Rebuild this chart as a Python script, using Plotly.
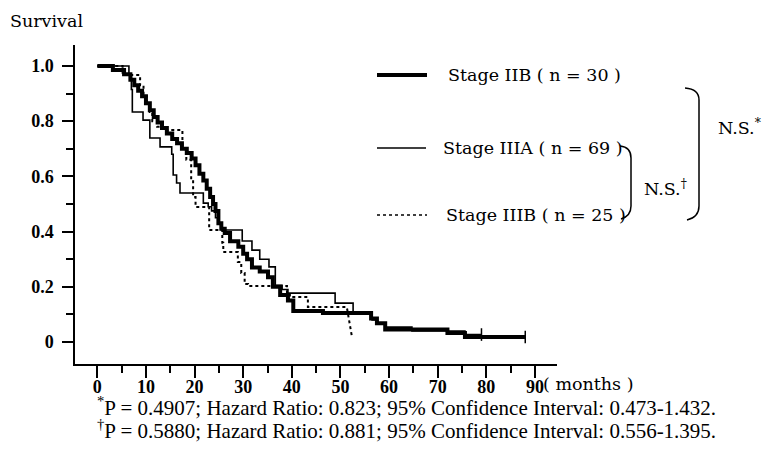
import plotly.graph_objects as go

# ---------------- data ----------------
iib_t = [0, 3.2, 5.5, 6.8, 7.6, 8.4, 9.2, 10.0, 10.8, 11.6, 12.4, 13.3, 14.3, 15.4, 16.4,
         17.4, 18.4, 19.4, 20.2, 21.0, 21.8, 22.5, 23.2, 23.8, 24.3, 24.9, 25.5, 26.2, 27.3,
         29.0, 30.0, 30.8, 31.8, 33.4, 35.1, 36.1, 37.6, 39.2, 40.3, 46.4, 56.3, 57.5, 59.2,
         72.0, 75.6]
iib_s = [1.0, 0.985, 0.97, 0.95, 0.93, 0.91, 0.89, 0.865, 0.84, 0.815, 0.795, 0.775, 0.755,
         0.735, 0.72, 0.70, 0.685, 0.665, 0.64, 0.61, 0.585, 0.555, 0.525, 0.50, 0.475, 0.43,
         0.41, 0.395, 0.365, 0.345, 0.32, 0.30, 0.27, 0.255, 0.235, 0.20, 0.17, 0.15, 0.112,
         0.105, 0.085, 0.068, 0.045, 0.033, 0.018]
iib_end = 88.0

iiia_t = [0, 6.5, 7.0, 7.2, 9.4, 10.8, 12.9, 15.3, 15.6, 16.3, 17.0, 21.8, 22.8, 23.5, 24.3,
          25.0, 25.5, 29.8, 31.8, 33.4, 35.3, 36.6, 38.0, 39.2, 48.9, 52.6, 56.5, 57.5, 59.2,
          64.7, 75.6]
iiia_s = [1.0, 0.97, 0.915, 0.833, 0.804, 0.739, 0.707, 0.68, 0.605, 0.576, 0.54, 0.503, 0.49,
          0.475, 0.45, 0.43, 0.406, 0.366, 0.333, 0.30, 0.272, 0.205, 0.19, 0.177, 0.141, 0.109,
          0.08, 0.065, 0.054, 0.04, 0.027]
iiia_end = 79.0

iiib_t = [0, 5.2, 8.8, 9.5, 10.2, 10.8, 11.3, 12.3, 13.5, 17.5, 18.3, 19.3, 19.7, 20.2, 23.0,
          25.7, 25.9, 28.9, 29.6, 30.3, 31.0, 39.0, 39.6, 43.3]
iiib_s = [1.0, 0.967, 0.93, 0.89, 0.866, 0.833, 0.80, 0.78, 0.768, 0.70, 0.66, 0.587, 0.525,
          0.489, 0.406, 0.36, 0.326, 0.29, 0.25, 0.21, 0.203, 0.18, 0.163, 0.127]
iiib_drop_t = [51.3, 52.4]
iiib_drop_s = [0.127, 0.015]

x_ticks = [0, 10, 20, 30, 40, 50, 60, 70, 80, 90]
y_ticks = [0, 0.2, 0.4, 0.6, 0.8, 1.0]
y_ticktext = ["0", "0.2", "0.4", "0.6", "0.8", "1.0"]
legend_labels = ["Stage IIB ( n = 30 )", "Stage IIIA ( n = 69 )", "Stage IIIB ( n = 25 )"]
footnotes = ["<sup>*</sup>P = 0.4907; Hazard Ratio: 0.823; 95% Confidence Interval: 0.473-1.432.",
             "<sup>†</sup>P = 0.5880; Hazard Ratio: 0.881; 95% Confidence Interval: 0.556-1.395."]

FONT = "DejaVu Serif"
TFONT = "Liberation Serif"
FS = 17.5


def steps(t, s, end=None):
    xs, ys = [t[0]], [s[0]]
    for i in range(1, len(t)):
        xs += [t[i], t[i]]
        ys += [s[i - 1], s[i]]
    if end is not None:
        xs.append(end)
        ys.append(s[-1])
    return xs, ys


fig = go.Figure()

x1, y1 = steps(iiia_t, iiia_s, iiia_end)
fig.add_trace(go.Scatter(x=x1, y=y1, mode="lines", line=dict(color="black", width=1.6),
                         showlegend=False, hoverinfo="skip"))

x2, y2 = steps(iiib_t, iiib_s)
x2 += iiib_drop_t
y2 += iiib_drop_s
fig.add_trace(go.Scatter(x=x2, y=y2, mode="lines", line=dict(color="black", width=2, dash="dot"),
                         showlegend=False, hoverinfo="skip"))

x0, y0 = steps(iib_t, iib_s, iib_end)
fig.add_trace(go.Scatter(x=x0, y=y0, mode="lines", line=dict(color="black", width=4),
                         showlegend=False, hoverinfo="skip"))

# censor marks
fig.add_trace(go.Scatter(x=[iiia_end, iib_end], y=[iiia_s[-1], iib_s[-1]], mode="markers",
                         marker=dict(symbol="line-ns-open", size=9, color="black",
                                     line=dict(color="black", width=1.5)),
                         showlegend=False, hoverinfo="skip"))

# ---------------- layout ----------------
L, R, T, B = 75, 557, 45, 364
W, H = 766, 465


def px(v):
    return (v - L) / (R - L)


def py(v):
    return (B - v) / (B - T)


tickfont = dict(family=TFONT, size=18, color="black", weight="bold")

fig.update_layout(
    width=W, height=H, autosize=False,
    margin=dict(l=L, r=W - R, t=T, b=H - B, pad=0),
    paper_bgcolor="white", plot_bgcolor="white",
    font=dict(family=FONT, size=FS, color="black"),
    xaxis=dict(range=[-4.59, 94.53], tickvals=x_ticks, ticks="outside", ticklen=12, tickwidth=1.5,
               tickcolor="black", showline=True, linecolor="black", linewidth=1.5, showgrid=False,
               zeroline=False, tickfont=tickfont, ticklabelstandoff=-6,
               minor=dict(tickvals=[5, 15, 25, 35, 45, 55, 65, 75, 85], ticks="outside", ticklen=7,
                          tickwidth=1.5, tickcolor="black", showgrid=False)),
    yaxis=dict(range=[-0.0797, 1.076], tickvals=y_ticks, ticktext=y_ticktext, ticks="outside",
               ticklen=11, tickwidth=1.5, tickcolor="black", showline=True, linecolor="black",
               linewidth=1.5, showgrid=False, zeroline=False, tickfont=tickfont,
               ticklabelstandoff=5,
               minor=dict(tickvals=[0.1, 0.3, 0.5, 0.7, 0.9], ticks="outside", ticklen=7,
                          tickwidth=1.5, tickcolor="black", showgrid=False)),
)

shapes = []
# legend samples
shapes.append(dict(type="line", xref="paper", yref="paper", x0=px(377), x1=px(427), y0=py(75), y1=py(75),
                   line=dict(color="black", width=4)))
shapes.append(dict(type="line", xref="paper", yref="paper", x0=px(377), x1=px(426), y0=py(148), y1=py(148),
                   line=dict(color="black", width=1.6)))
shapes.append(dict(type="line", xref="paper", yref="paper", x0=px(377), x1=px(427), y0=py(215), y1=py(215),
                   line=dict(color="black", width=1.5, dash="dot")))
# brackets
small = (f"M {px(620)},{py(146)} Q {px(631)},{py(147)} {px(631)},{py(158)} "
         f"L {px(631)},{py(206)} Q {px(631)},{py(216)} {px(621)},{py(219)}")
big = (f"M {px(685)},{py(88)} Q {px(699)},{py(89)} {px(699)},{py(100)} "
       f"L {px(699)},{py(206)} Q {px(699)},{py(217)} {px(687)},{py(220)}")
for p in (small, big):
    shapes.append(dict(type="path", xref="paper", yref="paper", path=p,
                       line=dict(color="black", width=1.5)))
fig.update_layout(shapes=shapes)

ann = []


def add_text(text, x, y, xanchor="left", size=FS, family=FONT):
    ann.append(dict(text=text, x=px(x), y=py(y), xref="paper", yref="paper", xanchor=xanchor,
                    yanchor="middle", showarrow=False, font=dict(family=family, size=size, color="black")))


add_text("Survival", 8, 21)
add_text(legend_labels[0], 446, 75)
add_text(legend_labels[1], 441, 148)
add_text(legend_labels[2], 444, 215)
add_text("N.S.<sup>†</sup>", 642, 188)
add_text("N.S.<sup>*</sup>", 716, 127)
add_text("( months )", 541, 384)
add_text(footnotes[0], 95, 406, size=21, family=TFONT)
add_text(footnotes[1], 95, 429, size=21, family=TFONT)
fig.update_layout(annotations=ann)

fig.write_html("out.html", config={"displayModeBar": False},
               post_script="document.body.style.margin='0';document.body.style.overflow='hidden';")
